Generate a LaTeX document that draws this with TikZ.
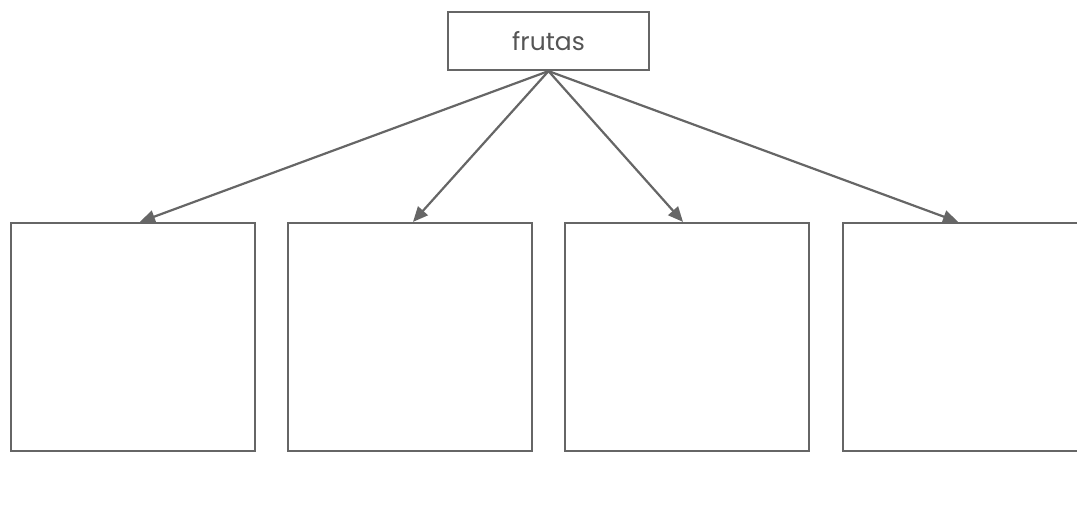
\documentclass[tikz,border=0pt]{standalone}
\usepackage{fontspec}
\setmainfont{Poppins}
\usetikzlibrary{arrows.meta}
\definecolor{linegray}{HTML}{666666}
\definecolor{textgray}{HTML}{555555}
\begin{document}
\begin{tikzpicture}[x=1pt,y=-1pt,
  topbox/.style={draw=linegray, line width=2.2pt, minimum width=201pt, minimum height=58pt, inner sep=0pt, text=textgray, font=\fontsize{25}{29}\selectfont},
  leafbox/.style={draw=linegray, line width=2.2pt, minimum width=244pt, minimum height=228pt, inner sep=0pt},
  conn/.style={draw=linegray, line width=2.2pt, -{Triangle[length=15pt,width=13pt]}}]
\useasboundingbox (0,0) rectangle (1077,508);
\node[topbox] (top) at (548.5,41) {frutas};
\node[leafbox] (b1) at (133,337) {};
\node[leafbox] (b2) at (410,337) {};
\node[leafbox] (b3) at (687,337) {};
\node[leafbox] (b4) at (965,337) {};
\coordinate (t1) at ([xshift=7pt]b1.north);
\coordinate (t2) at ([xshift=3pt]b2.north);
\coordinate (t3) at ([xshift=-4pt]b3.north);
\coordinate (t4) at ([xshift=-7pt]b4.north);
\foreach \i in {1,2,3,4} \draw[conn] (top.south) -- (t\i);
\end{tikzpicture}
\end{document}
